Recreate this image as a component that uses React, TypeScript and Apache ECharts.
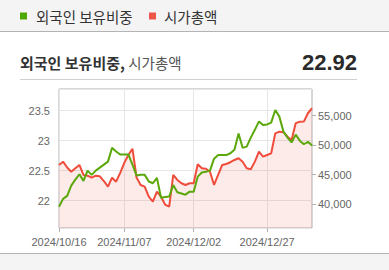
import React, { useEffect, useRef } from "react";
import * as echarts from "echarts";

const dates: string[] = [
  "2024/10/16", "2024/10/17", "2024/10/18", "2024/10/21", "2024/10/22", "2024/10/23", "2024/10/24", "2024/10/25",
  "2024/10/28", "2024/10/29", "2024/10/30", "2024/10/31", "2024/11/01", "2024/11/04", "2024/11/05", "2024/11/06",
  "2024/11/07", "2024/11/08", "2024/11/11", "2024/11/12", "2024/11/13", "2024/11/14", "2024/11/15", "2024/11/18",
  "2024/11/19", "2024/11/20", "2024/11/21", "2024/11/22", "2024/11/25", "2024/11/26", "2024/11/27", "2024/11/28",
  "2024/11/29", "2024/12/02", "2024/12/03", "2024/12/04", "2024/12/05", "2024/12/06", "2024/12/09", "2024/12/10",
  "2024/12/11", "2024/12/12", "2024/12/13", "2024/12/16", "2024/12/17", "2024/12/18", "2024/12/19", "2024/12/20",
  "2024/12/23", "2024/12/24", "2024/12/26", "2024/12/27", "2024/12/30", "2025/01/02", "2025/01/03", "2025/01/06",
  "2025/01/07", "2025/01/08", "2025/01/09", "2025/01/10", "2025/01/13", "2025/01/14", "2025/01/15",
];

const labelIndices: number[] = [0, 16, 33, 51];

const foreignRatio: number[] = [
  21.9, 22.03, 22.08, 22.25, 22.35, 22.44, 22.33, 22.5, 22.43, 22.5,
  22.55, 22.6, 22.65, 22.88, 22.82, 22.77, 22.77, 22.77, 22.6, 22.42,
  22.43, 22.43, 22.32, 22.29, 22.38, 22.05, 22.06, 22.07, 22.26, 22.14,
  22.12, 22.1, 22.15, 22.15, 22.4, 22.47, 22.48, 22.5, 22.7, 22.76,
  22.76, 22.76, 22.79, 22.85, 23.12, 22.88, 22.9, 23.05, 23.18, 23.32,
  23.26, 23.27, 23.3, 23.51, 23.4, 23.15, 23.05, 22.97, 23.1, 23.0,
  22.94, 22.98, 22.92,
];

const marketCap: number[] = [
  46630, 47190, 46200, 45490, 46070, 46630, 44930, 44810, 44470, 44810,
  44700, 43900, 42940, 44470, 43790, 45300, 47000, 48330, 49400, 44500,
  43230, 42940, 41240, 40390, 42090, 41240, 39900, 39540, 44930, 44080,
  43520, 43230, 43520, 43520, 46750, 46070, 46000, 45490, 43230, 44930,
  46630, 46800, 47100, 47480, 47770, 47190, 46070, 45900, 47200, 48890,
  48040, 48330, 48610, 52000, 52290, 52200, 51440, 50880, 53720, 53990,
  54000, 55420, 56270,
];

const legendNames: string[] = ["외국인 보유비중", "시가총액"];
const headline = "22.92";

const GREEN = "#5aa80a";
const RED = "#ef4c3c";
const KR = "'Noto Sans CJK KR', 'Noto Sans', sans-serif";
const AX = "'Liberation Sans', Arial, sans-serif";

export default function App() {
  const ref = useRef<HTMLDivElement>(null);
  useEffect(() => {
    if (!ref.current) return;
    const chart = echarts.init(ref.current, undefined, { renderer: "svg" });
    const showIdx = (i: number) => labelIndices.indexOf(i) >= 0;
    chart.setOption({
      animation: false,
      backgroundColor: "#ffffff",
      graphic: [
        { type: "rect", shape: { x: 0, y: 0, width: 389, height: 31 }, style: { fill: "#f4f4f4" }, silent: true },
        { type: "line", shape: { x1: 0, y1: 31.5, x2: 389, y2: 31.5 }, style: { stroke: "#b4b4b4", lineWidth: 1 } },
        { type: "rect", shape: { x: 20, y: 12.5, width: 7, height: 7 }, style: { fill: "#4fa800" } },
        { type: "text", x: 36, y: 16, style: { text: legendNames[0], font: `14.5px ${KR}`, fill: "#333", textVerticalAlign: "middle" } },
        { type: "rect", shape: { x: 149, y: 12.5, width: 7, height: 7 }, style: { fill: "#f0564a" } },
        { type: "text", x: 164, y: 16, style: { text: legendNames[1], font: `14.5px ${KR}`, fill: "#333", textVerticalAlign: "middle" } },
        {
          type: "text", x: 20, y: 62,
          style: {
            text: "{b|외국인 보유비중,} {n|시가총액}",
            textVerticalAlign: "middle",
            rich: {
              b: { fontFamily: KR, fontSize: 15, fontWeight: "bold", fill: "#333" },
              n: { fontFamily: KR, fontSize: 14.5, fill: "#555" },
            },
          },
        },
        { type: "text", x: 357, y: 62, style: { text: headline, font: `bold 22px ${AX}`, fill: "#2a2a2a", textAlign: "right", textVerticalAlign: "middle" } },
        { type: "line", shape: { x1: 20, y1: 79.5, x2: 357, y2: 79.5 }, style: { stroke: "#d0d0d0", lineWidth: 1 } },
        { type: "rect", shape: { x: 0, y: 253, width: 389, height: 17 }, style: { fill: "#f4f4f4" }, silent: true },
        { type: "line", shape: { x1: 0, y1: 253.5, x2: 389, y2: 253.5 }, style: { stroke: "#b4b4b4", lineWidth: 1 } },
      ],
      grid: {
        left: 59, right: 77, top: 89, bottom: 42,
        show: true, borderColor: "#b0b0b0", borderWidth: 1, backgroundColor: "transparent",
      },
      xAxis: {
        type: "category",
        data: dates,
        boundaryGap: false,
        axisLine: { show: false },
        axisTick: { show: true, interval: (i: number) => showIdx(i), length: 4, lineStyle: { color: "#b0b0b0" } },
        axisLabel: {
          interval: (i: number) => showIdx(i),
          color: "#666", fontFamily: AX, fontSize: 11, margin: 8,
        },
        splitLine: { show: true, interval: (i: number) => showIdx(i), lineStyle: { color: "#e6e6e6" } },
      },
      yAxis: [
        {
          type: "value",
          min: 21.545, max: 23.86, splitNumber: 5,
          axisLine: { show: false }, axisTick: { show: false },
          axisLabel: { color: "#666", fontFamily: AX, fontSize: 11, margin: 9, showMinLabel: false, showMaxLabel: false },
          splitLine: { show: true, lineStyle: { color: "#e6e6e6" } },
        },
        {
          type: "value",
          min: 35920, max: 59540, splitNumber: 5,
          axisLine: { show: false },
          axisTick: { show: true, length: 4, lineStyle: { color: "#b0b0b0" } },
          axisLabel: {
            color: "#666", fontFamily: AX, fontSize: 11, margin: 6, showMinLabel: false, showMaxLabel: false,
            formatter: (v: number) => v.toLocaleString("en-US"),
          },
          splitLine: { show: false },
        },
      ],
      series: [
        {
          name: legendNames[1], type: "line", yAxisIndex: 1, data: marketCap,
          symbol: "none", z: 2,
          lineStyle: { color: RED, width: 2 },
          itemStyle: { color: RED },
          areaStyle: { color: "rgba(240,80,70,0.16)" },
        },
        {
          name: legendNames[0], type: "line", yAxisIndex: 0, data: foreignRatio,
          symbol: "none", z: 3,
          lineStyle: { color: GREEN, width: 2 },
          itemStyle: { color: GREEN },
        },
      ],
    });
    return () => chart.dispose();
  }, []);
  return <div ref={ref} style={{ position: "absolute", left: 0, top: 0, width: 389, height: 270 }} />;
}
